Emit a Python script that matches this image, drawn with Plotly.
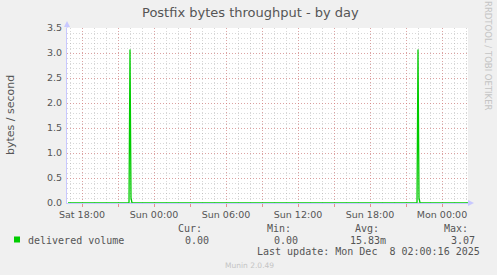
import plotly.graph_objects as go

# ---- data ----
times = ["2025-12-06 16:50", "2025-12-06 21:55", "2025-12-06 22:00", "2025-12-06 22:05",
         "2025-12-06 22:10", "2025-12-07 21:55", "2025-12-07 22:00", "2025-12-07 22:05",
         "2025-12-07 22:10", "2025-12-08 02:10"]
delivered = [0, 0, 3.07, 0.10, 0, 0, 3.07, 0.10, 0, 0]

tick_times = ["2025-12-06 18:00", "2025-12-06 21:00", "2025-12-07 00:00", "2025-12-07 03:00",
              "2025-12-07 06:00", "2025-12-07 09:00", "2025-12-07 12:00", "2025-12-07 15:00",
              "2025-12-07 18:00", "2025-12-07 21:00", "2025-12-08 00:00"]
tick_labels = ["Sat 18:00", "", "Sun 00:00", "", "Sun 06:00", "", "Sun 12:00", "",
               "Sun 18:00", "", "Mon 00:00"]
y_ticks = [0.0, 0.5, 1.0, 1.5, 2.0, 2.5, 3.0, 3.5]

series_name = "delivered volume"
stat_heads = ["Cur:", "Min:", "Avg:", "Max:"]
stat_vals = ["0.00", "0.00", "15.83m", "3.07"]
title = "Postfix bytes throughput - by day"
y_title = "bytes / second"
last_update = "Last update: Mon Dec  8 02:00:16 2025"

# ---- geometry ----
W, H = 497, 275
L, R, T, B = 67, 468, 28, 203
PW, PH = R - L, B - T


def px(x):
    return (x - L) / PW


def py(y):
    return (B - y) / PH


TXT = "#555555"
SANS = "DejaVu Sans"
MONO = "DejaVu Sans Mono"
GREEN = "#00cc00"
AXIS = "#c8c8ff"
MAJ = "rgba(225,110,110,0.5)"
MIN = "rgba(150,150,150,0.38)"

fig = go.Figure()
fig.add_trace(go.Scatter(x=times, y=delivered, mode="lines",
                         line=dict(color=GREEN, width=1.3), name=series_name,
                         showlegend=False, hoverinfo="skip"))

fig.update_layout(
    width=W, height=H,
    margin=dict(l=L, r=W - R, t=T, b=H - B, pad=0),
    paper_bgcolor="#f0f0f0", plot_bgcolor="#ffffff",
    font=dict(family=SANS, size=9.5, color=TXT),
    showlegend=False,
)

fig.update_xaxes(
    type="date", range=["2025-12-06 16:45", "2025-12-08 02:10"],
    tickmode="array", tickvals=tick_times, ticktext=tick_labels,
    ticks="outside", ticklen=3, tickcolor="rgba(220,80,80,0.6)", tickwidth=1,
    showgrid=True, gridcolor=MAJ, griddash="1px,2px", gridwidth=1,
    minor=dict(dtick=3600000, tick0="2025-12-06 00:00", showgrid=True,
               gridcolor=MIN, griddash="1px,2px", ticks=""),
    showline=True, linecolor=AXIS, linewidth=1, zeroline=False,
    tickfont=dict(family=SANS, size=9.5, color=TXT),
    fixedrange=True,
)

fig.update_yaxes(
    range=[0, 3.5], tickmode="array", tickvals=y_ticks, tickformat=".1f",
    ticks="outside", ticklen=2, tickcolor="rgba(220,80,80,0.0)",
    showgrid=True, gridcolor=MAJ, griddash="1px,2px", gridwidth=1,
    minor=dict(dtick=0.1, showgrid=True, gridcolor=MIN,
               griddash="1px,2px", ticks=""),
    showline=True, linecolor=AXIS, linewidth=1, zeroline=False,
    tickfont=dict(family=SANS, size=9.5, color=TXT),
    fixedrange=True,
)

# axis arrows and extension (decorations in paper coordinates)
fig.add_shape(type="line", xref="paper", yref="paper", x0=0, x1=0, y0=1, y1=py(24),
              line=dict(color=AXIS, width=1))
fig.add_shape(type="path", xref="paper", yref="paper",
              path=f"M {px(64)},{py(27)} L {px(70)},{py(27)} L {px(67)},{py(21)} Z",
              fillcolor=AXIS, line=dict(width=0))
fig.add_shape(type="path", xref="paper", yref="paper",
              path=f"M {px(468)},{py(200)} L {px(468)},{py(206)} L {px(474)},{py(203)} Z",
              fillcolor=AXIS, line=dict(width=0))

# legend square
fig.add_shape(type="rect", xref="paper", yref="paper",
              x0=px(14), x1=px(20), y0=py(236.5), y1=py(242.5),
              fillcolor=GREEN, line=dict(width=0))


def txt(s, x, y, anchor="left", size=10, family=MONO, color=TXT, angle=0):
    fig.add_annotation(text=s, x=px(x), y=py(y), xref="paper", yref="paper",
                       xanchor=anchor, yanchor="middle", showarrow=False,
                       textangle=angle, font=dict(family=family, size=size, color=color))


txt(title, 250, 12, anchor="center", size=13, family=SANS, color=TXT)
txt(y_title, 10, 115, anchor="center", size=11, family=SANS, color=TXT, angle=-90)
txt(series_name, 26, 240)
head_x = [204, 293, 381, 470]
val_x = [211, 300, 388, 477]
for h, v, hx, vx in zip(stat_heads, stat_vals, head_x, val_x):
    txt(h, hx, 228, anchor="right")
    txt(v, vx, 240, anchor="right")
txt(last_update, 482, 251, anchor="right")
txt("Munin 2.0.49", 249, 265, anchor="center", size=7.5, family=SANS, color="#c4c4c4")
txt("RRDTOOL / TOBI OETIKER", 488, 56, anchor="center", size=8.5, family=SANS,
    color="#c4c4c4", angle=90)

fig.write_html("out.html")
